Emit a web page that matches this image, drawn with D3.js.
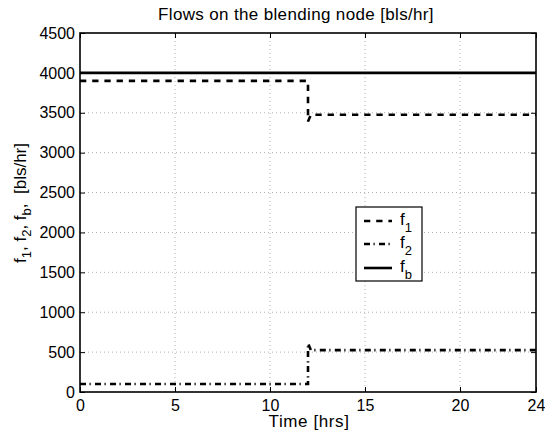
<!DOCTYPE html>
<html><head><meta charset="utf-8">
<script src="https://cdn.jsdelivr.net/npm/d3@7"></script>
<style>
body{margin:0;background:#fff;}
text{font-family:"Liberation Sans",Arial,Helvetica,sans-serif;fill:#000;}
</style></head>
<body><svg id="c" width="545" height="439"></svg>
<script>
// Data
const timeF1 = [0, 12, 12, 12.15, 24];
const valF1  = [3900, 3900, 3390, 3475, 3475];
const timeF2 = [0, 12, 12, 12.15, 24];
const valF2  = [100, 100, 610, 525, 525];
const timeFb = [0, 24];
const valFb  = [4000, 4000];
const xTicks = [0, 5, 10, 15, 20, 24];
const yTicks = [0, 500, 1000, 1500, 2000, 2500, 3000, 3500, 4000, 4500];

const svg = d3.select("#c");
const L = 80, R = 536, T = 33, B = 392;
const x = d3.scaleLinear().domain([0, 24]).range([L, R]);
const y = d3.scaleLinear().domain([0, 4500]).range([B, T]);

svg.append("rect").attr("x",0).attr("y",0).attr("width",545).attr("height",439).attr("fill","#fff");

// grid
const g = svg.append("g");
xTicks.filter(t => t > 0 && t < 24).forEach(t => {
  g.append("line").attr("x1", x(t)).attr("x2", x(t)).attr("y1", T).attr("y2", B)
   .attr("stroke", "#b0b0b0").attr("stroke-width", 1).attr("stroke-dasharray", "1,3");
});
yTicks.filter(t => t > 0 && t < 4500).forEach(t => {
  g.append("line").attr("x1", L).attr("x2", R).attr("y1", y(t)).attr("y2", y(t))
   .attr("stroke", "#b0b0b0").attr("stroke-width", 1).attr("stroke-dasharray", "1,3");
});

// axes with inward ticks
const fs = 16;
const xAx = svg.append("g").attr("transform", `translate(0,${B})`)
  .call(d3.axisBottom(x).tickValues(xTicks).tickSizeInner(-5).tickSizeOuter(0).tickPadding(8).tickFormat(d3.format("d")));
const xAxT = svg.append("g").attr("transform", `translate(0,${T})`)
  .call(d3.axisTop(x).tickValues(xTicks).tickSizeInner(-5).tickSizeOuter(0).tickFormat(""));
const yAx = svg.append("g").attr("transform", `translate(${L},0)`)
  .call(d3.axisLeft(y).tickValues(yTicks).tickSizeInner(-5).tickSizeOuter(0).tickPadding(5).tickFormat(d3.format("d")));
const yAxR = svg.append("g").attr("transform", `translate(${R},0)`)
  .call(d3.axisRight(y).tickValues(yTicks).tickSizeInner(-5).tickSizeOuter(0).tickFormat(""));
[xAx, xAxT, yAx, yAxR].forEach(a => {
  a.select(".domain").remove();
  a.selectAll(".tick line").attr("stroke", "#000").attr("stroke-width", 1);
  a.selectAll("text").attr("font-size", fs).attr("font-family", "Liberation Sans, Arial, sans-serif").attr("fill", "#000");
});
xAx.selectAll("text").attr("dy", "0.71em");

// lines
const line = d3.line().x(d => x(d[0])).y(d => y(d[1]));
const series = [
  {t: timeF1, v: valF1, dash: "6.3,5.9"},
  {t: timeF2, v: valF2, dash: "6,3.5,1.2,4.3"},
  {t: timeFb, v: valFb, dash: null}
];
series.forEach(s => {
  const p = svg.append("path").datum(s.t.map((t, i) => [t, s.v[i]]))
    .attr("d", line).attr("fill", "none").attr("stroke", "#000").attr("stroke-width", 2.6);
  if (s.dash) p.attr("stroke-dasharray", s.dash);
});

// box
svg.append("rect").attr("x", L).attr("y", T).attr("width", R - L).attr("height", B - T)
  .attr("fill", "none").attr("stroke", "#000").attr("stroke-width", 1.6);

// title
svg.append("text").attr("x", 296).attr("y", 20).attr("text-anchor", "middle")
  .attr("font-size", 17).attr("letter-spacing", "0.35px").text("Flows on the blending node [bls/hr]");
// x label
svg.append("text").attr("x", 309).attr("y", 427).attr("text-anchor", "middle")
  .attr("font-size", 17).attr("letter-spacing", "0.6px").text("Time [hrs]");
// y label with subscripts
const yl = svg.append("text").attr("transform", "translate(26,203) rotate(-90)")
  .attr("text-anchor", "middle").attr("font-size", 17).style("white-space", "pre");
const parts = [["f",""],["1","sub"],[", f",""],["2","sub"],[", f",""],["b","sub"],[",  [bls/hr]",""]];
let shifted = false;
parts.forEach(([txt, kind]) => {
  const ts = yl.append("tspan").text(txt);
  if (kind === "sub") { ts.attr("font-size", 13).attr("dy", 5); shifted = true; }
  else if (shifted) { ts.attr("dy", -5); shifted = false; }
});

// legend
const lg = svg.append("g");
lg.append("rect").attr("x", 356).attr("y", 207).attr("width", 66).attr("height", 74)
  .attr("fill", "#fff").attr("stroke", "#000").attr("stroke-width", 1.2);
const legNames = ["1", "2", "b"];
const legY = [221, 244, 268];
series.forEach((s, i) => {
  const ln = lg.append("line").attr("x1", 364).attr("x2", 392).attr("y1", legY[i]).attr("y2", legY[i])
    .attr("stroke", "#000").attr("stroke-width", 2.6);
  if (s.dash) ln.attr("stroke-dasharray", s.dash);
  const tx = lg.append("text").attr("x", 400).attr("y", legY[i] + 4).attr("font-size", 17);
  tx.append("tspan").text("f");
  tx.append("tspan").attr("font-size", 13).attr("dy", 7).text(legNames[i]);
});
</script></body></html>
